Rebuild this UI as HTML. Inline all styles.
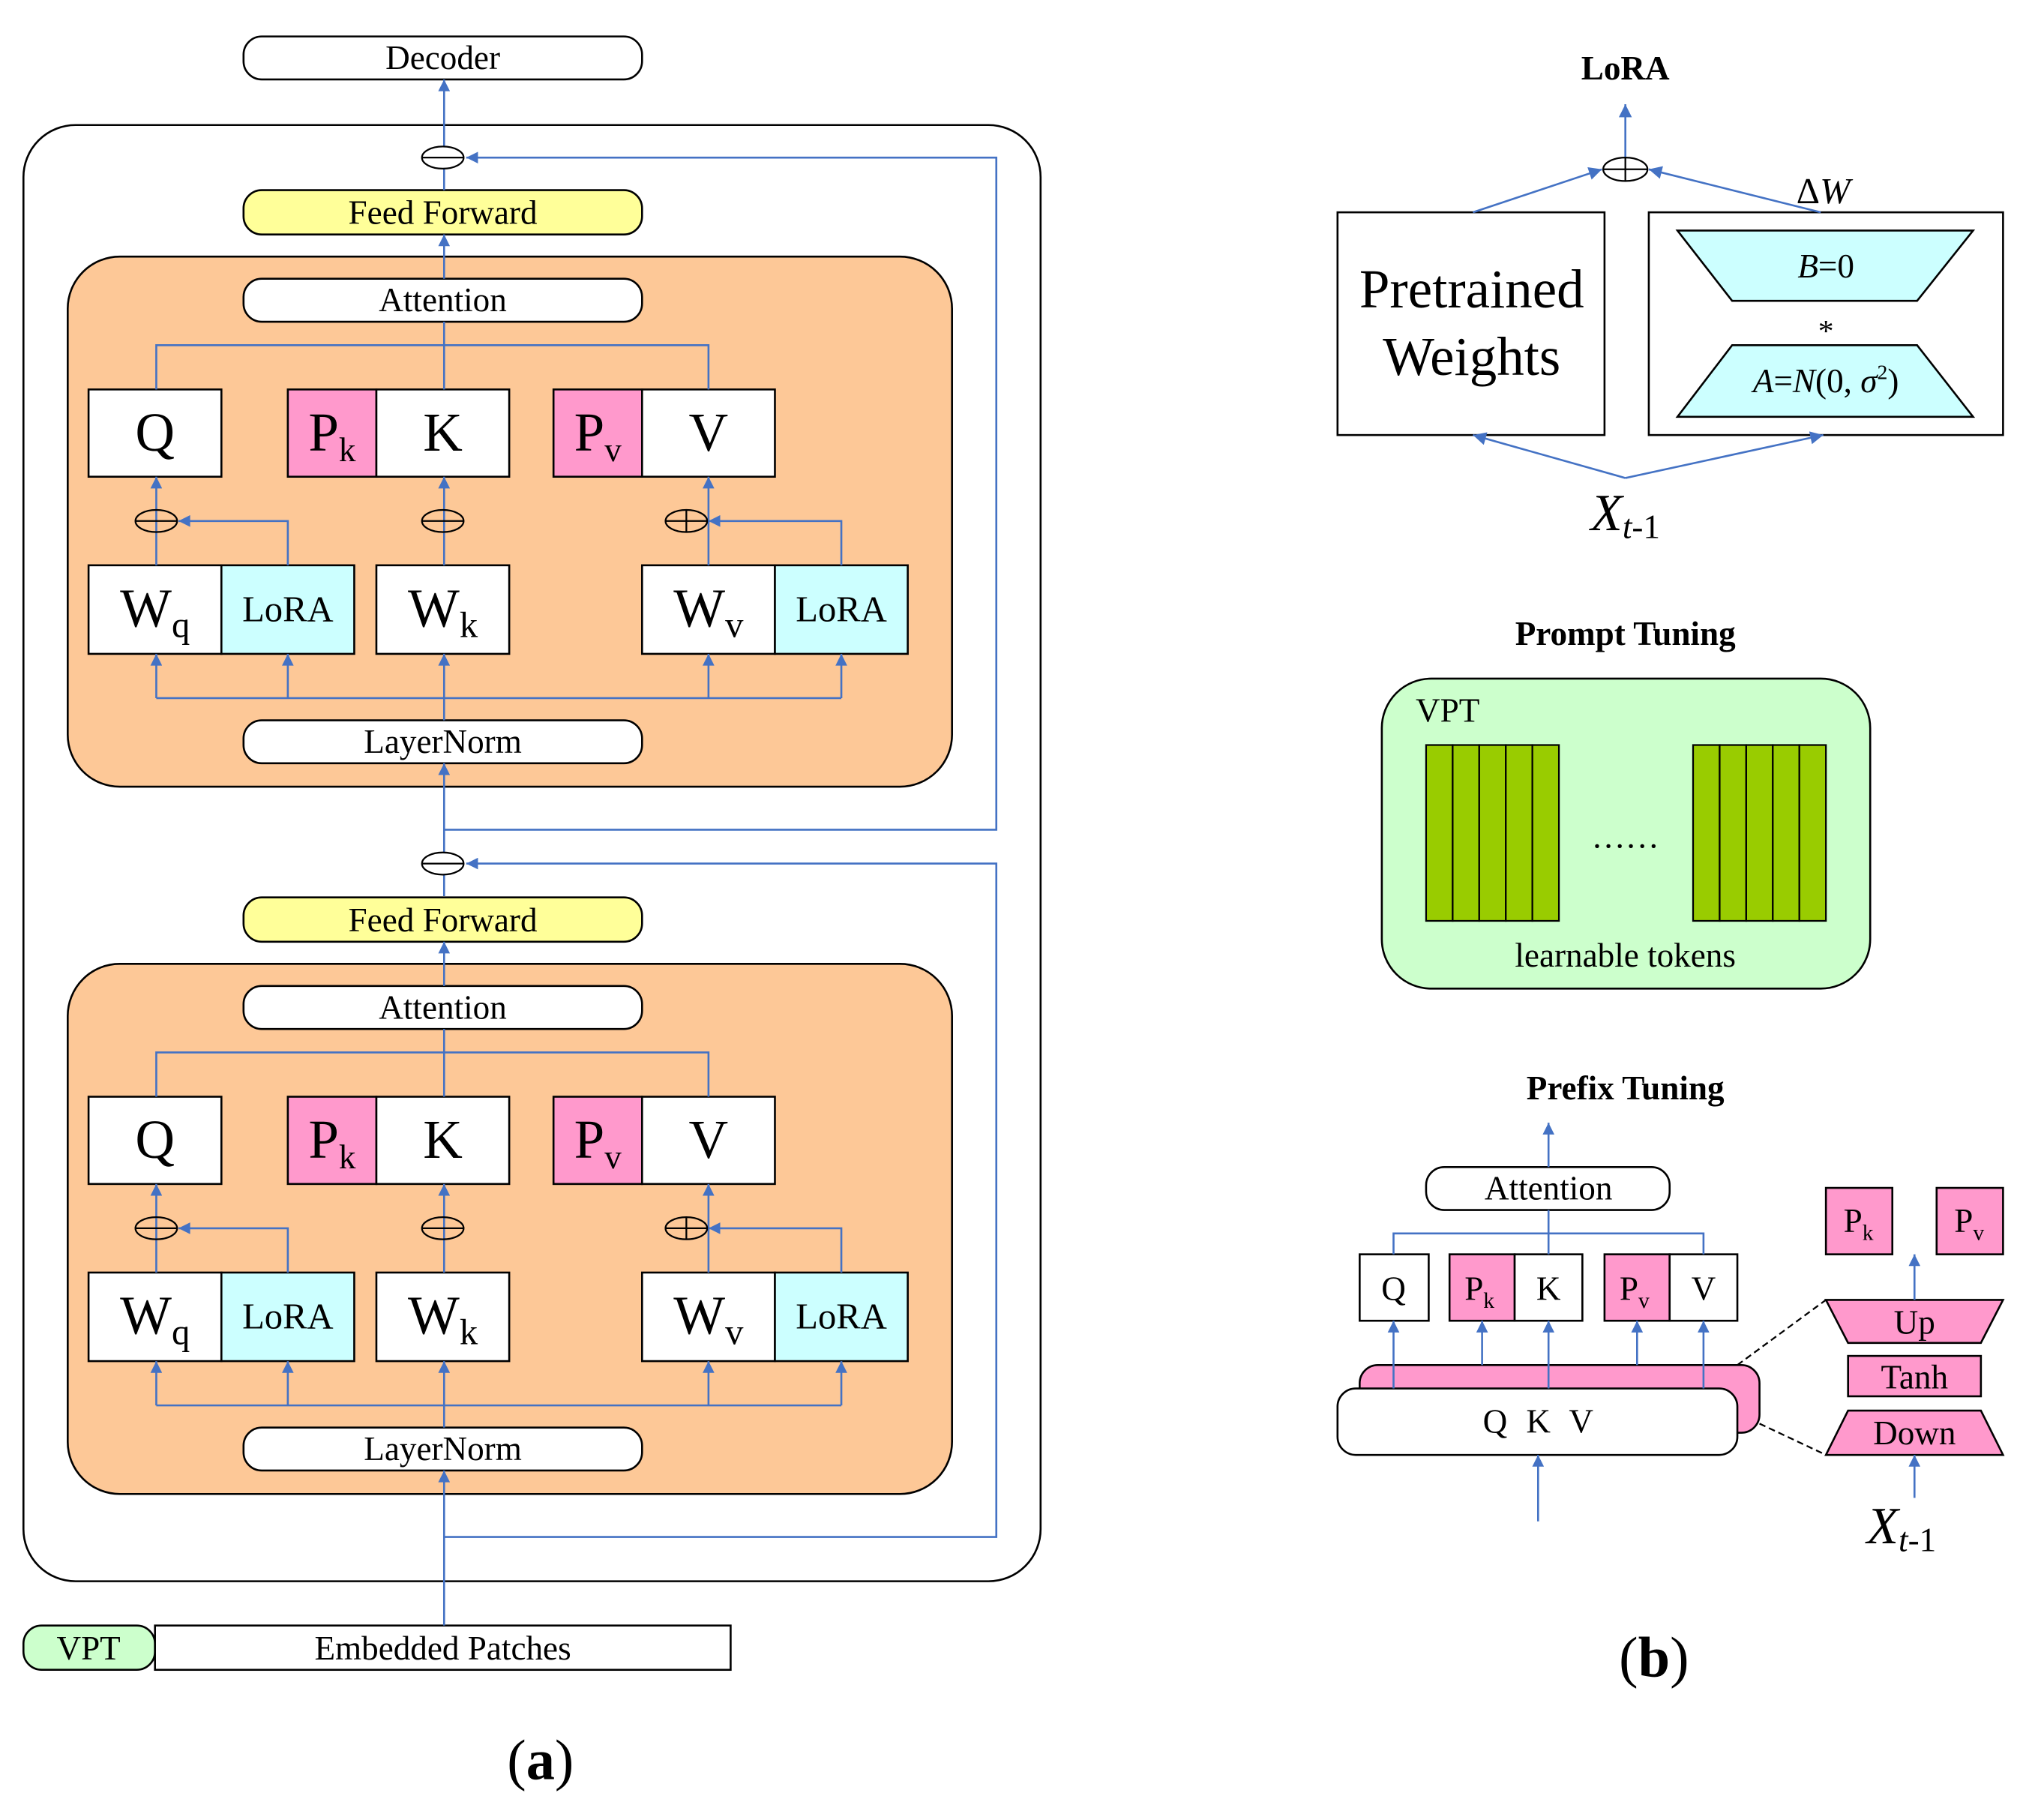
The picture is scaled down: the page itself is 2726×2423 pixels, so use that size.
<!DOCTYPE html>
<html><head><meta charset="utf-8"><style>html,body{margin:0;padding:0;background:#fff}svg{display:block}</style></head>
<body>
<svg width="2726" height="2423" viewBox="0 0 1569 1395" preserveAspectRatio="xMinYMin meet" xmlns="http://www.w3.org/2000/svg" font-family="'Liberation Serif', serif">
<defs>
<marker id="ar" viewBox="0 0 10 10" refX="10" refY="5" markerWidth="13" markerHeight="9" orient="auto" markerUnits="userSpaceOnUse"><path d="M0,0L10,5L0,10z" fill="#4472c4"/></marker>
<marker id="ab" viewBox="0 0 10 10" refX="10" refY="5" markerWidth="15" markerHeight="10" orient="auto" markerUnits="userSpaceOnUse"><path d="M0,0L10,5L0,10z" fill="#4472c4"/></marker>
</defs>
<g stroke="#000" stroke-width="1.5">
<rect x="187" y="28" width="306" height="33" rx="14" fill="#fff"/>
<rect x="18" y="96" width="781" height="1118" rx="40" fill="none"/>
<rect x="18" y="1248" width="101" height="34" rx="14" fill="#ccffcc"/>
<rect x="119" y="1248" width="442" height="34" fill="#fff"/>
</g>
<g id="blk1">
<g stroke="#000" stroke-width="1.5">
<rect x="187" y="146" width="306" height="34" rx="14" fill="#ffff99"/>
<rect x="52" y="197" width="679" height="407" rx="40" fill="#fdc897"/>
<rect x="187" y="214" width="306" height="33" rx="14" fill="#fff"/>
<rect x="187" y="553" width="306" height="33" rx="14" fill="#fff"/>
<rect x="68" y="299" width="102" height="67" fill="#fff"/>
<rect x="221" y="299" width="68" height="67" fill="#ff99cc"/>
<rect x="289" y="299" width="102" height="67" fill="#fff"/>
<rect x="425" y="299" width="68" height="67" fill="#ff99cc"/>
<rect x="493" y="299" width="102" height="67" fill="#fff"/>
<rect x="68" y="434" width="102" height="68" fill="#fff"/>
<rect x="170" y="434" width="102" height="68" fill="#ccffff"/>
<rect x="289" y="434" width="102" height="68" fill="#fff"/>
<rect x="493" y="434" width="102" height="68" fill="#fff"/>
<rect x="595" y="434" width="102" height="68" fill="#ccffff"/>
</g>
<g stroke="#4472c4" stroke-width="1.5" fill="none">
<path d="M341 214V180" marker-end="url(#ar)"/>
<path d="M120 299V265H544V299M341 247V299"/>
<path d="M120 434V366" marker-end="url(#ar)"/>
<path d="M341 434V366" marker-end="url(#ar)"/>
<path d="M544 434V366" marker-end="url(#ar)"/>
<path d="M221 434V400H137" marker-end="url(#ar)"/>
<path d="M646 434V400H544" marker-end="url(#ar)"/>
<path d="M120 536H646"/>
<path d="M341 553V502" marker-end="url(#ar)"/>
<path d="M120 536V502" marker-end="url(#ar)"/>
<path d="M221 536V502" marker-end="url(#ar)"/>
<path d="M544 536V502" marker-end="url(#ar)"/>
<path d="M646 536V502" marker-end="url(#ar)"/>
</g>
<g stroke="#000" stroke-width="1.3" fill="none">
<ellipse cx="120" cy="400" rx="16" ry="8.5"/><path d="M104 400H136"/>
<ellipse cx="340" cy="400" rx="16" ry="8.5"/><path d="M324 400H356"/>
<ellipse cx="527" cy="400" rx="16" ry="8.5"/><path d="M511 400H543M527 391.5V408.5"/>
</g>
<g font-size="26" text-anchor="middle">
<text x="340" y="172">Feed Forward</text>
<text x="340" y="239">Attention</text>
<text x="340" y="578">LayerNorm</text>
<text x="119" y="346" font-size="42">Q</text>
<text x="340" y="346" font-size="42">K</text>
<text x="544" y="346" font-size="42">V</text>
<text x="255" y="346" font-size="42">P<tspan font-size="26" dy="8">k</tspan></text>
<text x="459" y="346" font-size="42">P<tspan font-size="26" dy="8">v</tspan></text>
<text x="119" y="481" font-size="42">W<tspan font-size="28" dy="8">q</tspan></text>
<text x="340" y="481" font-size="42">W<tspan font-size="28" dy="8">k</tspan></text>
<text x="544" y="481" font-size="42">W<tspan font-size="28" dy="8">v</tspan></text>
<text x="221" y="477" font-size="28">LoRA</text>
<text x="646" y="477" font-size="28">LoRA</text>
</g>
</g>
<g transform="translate(0,543)">
<g stroke="#000" stroke-width="1.5">
<rect x="187" y="146" width="306" height="34" rx="14" fill="#ffff99"/>
<rect x="52" y="197" width="679" height="407" rx="40" fill="#fdc897"/>
<rect x="187" y="214" width="306" height="33" rx="14" fill="#fff"/>
<rect x="187" y="553" width="306" height="33" rx="14" fill="#fff"/>
<rect x="68" y="299" width="102" height="67" fill="#fff"/>
<rect x="221" y="299" width="68" height="67" fill="#ff99cc"/>
<rect x="289" y="299" width="102" height="67" fill="#fff"/>
<rect x="425" y="299" width="68" height="67" fill="#ff99cc"/>
<rect x="493" y="299" width="102" height="67" fill="#fff"/>
<rect x="68" y="434" width="102" height="68" fill="#fff"/>
<rect x="170" y="434" width="102" height="68" fill="#ccffff"/>
<rect x="289" y="434" width="102" height="68" fill="#fff"/>
<rect x="493" y="434" width="102" height="68" fill="#fff"/>
<rect x="595" y="434" width="102" height="68" fill="#ccffff"/>
</g>
<g stroke="#4472c4" stroke-width="1.5" fill="none">
<path d="M341 214V180" marker-end="url(#ar)"/>
<path d="M120 299V265H544V299M341 247V299"/>
<path d="M120 434V366" marker-end="url(#ar)"/>
<path d="M341 434V366" marker-end="url(#ar)"/>
<path d="M544 434V366" marker-end="url(#ar)"/>
<path d="M221 434V400H137" marker-end="url(#ar)"/>
<path d="M646 434V400H544" marker-end="url(#ar)"/>
<path d="M120 536H646"/>
<path d="M341 553V502" marker-end="url(#ar)"/>
<path d="M120 536V502" marker-end="url(#ar)"/>
<path d="M221 536V502" marker-end="url(#ar)"/>
<path d="M544 536V502" marker-end="url(#ar)"/>
<path d="M646 536V502" marker-end="url(#ar)"/>
</g>
<g stroke="#000" stroke-width="1.3" fill="none">
<ellipse cx="120" cy="400" rx="16" ry="8.5"/><path d="M104 400H136"/>
<ellipse cx="340" cy="400" rx="16" ry="8.5"/><path d="M324 400H356"/>
<ellipse cx="527" cy="400" rx="16" ry="8.5"/><path d="M511 400H543M527 391.5V408.5"/>
</g>
<g font-size="26" text-anchor="middle">
<text x="340" y="172">Feed Forward</text>
<text x="340" y="239">Attention</text>
<text x="340" y="578">LayerNorm</text>
<text x="119" y="346" font-size="42">Q</text>
<text x="340" y="346" font-size="42">K</text>
<text x="544" y="346" font-size="42">V</text>
<text x="255" y="346" font-size="42">P<tspan font-size="26" dy="8">k</tspan></text>
<text x="459" y="346" font-size="42">P<tspan font-size="26" dy="8">v</tspan></text>
<text x="119" y="481" font-size="42">W<tspan font-size="28" dy="8">q</tspan></text>
<text x="340" y="481" font-size="42">W<tspan font-size="28" dy="8">k</tspan></text>
<text x="544" y="481" font-size="42">W<tspan font-size="28" dy="8">v</tspan></text>
<text x="221" y="477" font-size="28">LoRA</text>
<text x="646" y="477" font-size="28">LoRA</text>
</g>
</g>
<g stroke="#4472c4" stroke-width="1.5" fill="none">
<path d="M341 146V61" marker-end="url(#ar)"/>
<path d="M341 637H765V121H358" marker-end="url(#ar)"/>
<path d="M341 688V586" marker-end="url(#ar)"/>
<path d="M341 1180H765V663H358" marker-end="url(#ar)"/>
<path d="M341 1248V1129" marker-end="url(#ar)"/>
</g>
<g stroke="#000" stroke-width="1.3" fill="#fff">
<ellipse cx="340" cy="121" rx="16" ry="8.5"/><path d="M324 121H356"/>
<ellipse cx="340" cy="663" rx="16" ry="8.5"/><path d="M324 663H356"/>
</g>
<g font-size="26" text-anchor="middle">
<text x="340" y="53">Decoder</text>
<text x="68" y="1274">VPT</text>
<text x="340" y="1274">Embedded Patches</text>
<text x="415" y="1366" font-size="44">(<tspan font-weight="bold">a</tspan>)</text>
<text x="1270" y="1287" font-size="44">(<tspan font-weight="bold">b</tspan>)</text>
</g>

<text x="1248" y="61" font-size="26" font-weight="bold" text-anchor="middle">LoRA</text>
<g stroke="#000" stroke-width="1.5" fill="#fff">
<rect x="1027" y="163" width="205" height="171"/>
<rect x="1266" y="163" width="272" height="171"/>
<path d="M1288 177H1515L1472 231H1330Z" fill="#ccffff"/>
<path d="M1330 265H1472L1515 320H1288Z" fill="#ccffff"/>
</g>
<g stroke="#4472c4" stroke-width="1.5" fill="none">
<path d="M1248 121V80" marker-end="url(#ab)"/>
<path d="M1131 163L1230 130" marker-end="url(#ab)"/>
<path d="M1398 163L1266 130" marker-end="url(#ab)"/>
<path d="M1248 367L1131 334" marker-end="url(#ab)"/>
<path d="M1248 367L1400 334" marker-end="url(#ab)"/>
</g>
<g stroke="#000" stroke-width="1.3" fill="#fff">
<ellipse cx="1248" cy="130" rx="17" ry="9"/><path d="M1231 130H1265M1248 121V139" fill="none"/>
</g>
<g text-anchor="middle">
<text x="1130" y="236" font-size="42">Pretrained</text>
<text x="1130" y="288" font-size="42">Weights</text>
<text x="1400" y="156" font-size="28"><tspan>Δ</tspan><tspan font-style="italic">W</tspan></text>
<text x="1402" y="213" font-size="26"><tspan font-style="italic">B</tspan>=0</text>
<text x="1402" y="262" font-size="24">*</text>
<text x="1402" y="301" font-size="26"><tspan font-style="italic">A</tspan>=<tspan font-style="italic">N</tspan>(0, <tspan font-style="italic">σ</tspan><tspan font-size="16" dy="-10">2</tspan><tspan dy="10">)</tspan></text>
<text x="1248" y="407" font-size="40"><tspan font-style="italic">X</tspan><tspan font-size="26" dy="6"><tspan font-style="italic">t</tspan>-1</tspan></text>
</g>

<text x="1248" y="495" font-size="26" font-weight="bold" text-anchor="middle">Prompt Tuning</text>
<rect x="1061" y="521" width="375" height="238" rx="38" fill="#ccffcc" stroke="#000" stroke-width="1.5"/>
<g stroke="#000" stroke-width="1.3" fill="#99cc00">
<rect x="1095" y="572" width="20.4" height="135"/><rect x="1115.4" y="572" width="20.4" height="135"/><rect x="1135.8" y="572" width="20.4" height="135"/><rect x="1156.2" y="572" width="20.4" height="135"/><rect x="1176.6" y="572" width="20.4" height="135"/>
<rect x="1300" y="572" width="20.4" height="135"/><rect x="1320.4" y="572" width="20.4" height="135"/><rect x="1340.8" y="572" width="20.4" height="135"/><rect x="1361.2" y="572" width="20.4" height="135"/><rect x="1381.6" y="572" width="20.4" height="135"/>
</g>
<g font-size="26">
<text x="1087" y="554">VPT</text>
<text x="1248" y="651" text-anchor="middle">……</text>
<text x="1248" y="742" text-anchor="middle">learnable tokens</text>
</g>

<text x="1248" y="844" font-size="26" font-weight="bold" text-anchor="middle">Prefix Tuning</text>
<g stroke="#000" stroke-width="1.5">
<rect x="1095" y="896" width="187" height="33" rx="14" fill="#fff"/>
<rect x="1044" y="963" width="53" height="51" fill="#fff"/>
<rect x="1113" y="963" width="50" height="51" fill="#ff99cc"/>
<rect x="1163" y="963" width="52" height="51" fill="#fff"/>
<rect x="1232" y="963" width="50" height="51" fill="#ff99cc"/>
<rect x="1282" y="963" width="52" height="51" fill="#fff"/>
<rect x="1044" y="1048" width="307" height="52" rx="14" fill="#ff99cc"/>
<rect x="1027" y="1066" width="307" height="51" rx="14" fill="#fff"/>
<rect x="1402" y="912" width="51" height="51" fill="#ff99cc"/>
<rect x="1487" y="912" width="51" height="51" fill="#ff99cc"/>
<path d="M1402 998H1538L1521 1031H1419Z" fill="#ff99cc"/>
<rect x="1419" y="1041" width="102" height="31" fill="#ff99cc"/>
<path d="M1419 1083H1521L1538 1117H1402Z" fill="#ff99cc"/>
</g>
<g stroke="#000" stroke-width="1.3" stroke-dasharray="5,3" fill="none">
<path d="M1334 1048L1402 998"/><path d="M1351 1093L1402 1117"/>
</g>
<g stroke="#4472c4" stroke-width="1.5" fill="none">
<path d="M1189 896V862" marker-end="url(#ar)"/>
<path d="M1070 963V947H1308V963M1189 929V963"/>
<path d="M1070 1066V1014" marker-end="url(#ar)"/>
<path d="M1138 1048V1014" marker-end="url(#ar)"/>
<path d="M1189 1066V1014" marker-end="url(#ar)"/>
<path d="M1257 1048V1014" marker-end="url(#ar)"/>
<path d="M1308 1066V1014" marker-end="url(#ar)"/>
<path d="M1181 1168V1117" marker-end="url(#ar)"/>
<path d="M1470 998V963" marker-end="url(#ar)"/>
<path d="M1470 1150V1117" marker-end="url(#ar)"/>
</g>
<g font-size="26" text-anchor="middle">
<text x="1189" y="921">Attention</text>
<text x="1070" y="998">Q</text>
<text x="1189" y="998">K</text>
<text x="1308" y="998">V</text>
<text x="1136" y="998">P<tspan font-size="17" dy="6">k</tspan></text>
<text x="1255" y="998">P<tspan font-size="17" dy="6">v</tspan></text>
<text x="1181" y="1100" word-spacing="8">Q K V</text>
<text x="1427" y="946">P<tspan font-size="17" dy="6">k</tspan></text>
<text x="1512" y="946">P<tspan font-size="17" dy="6">v</tspan></text>
<text x="1470" y="1024">Up</text>
<text x="1470" y="1066">Tanh</text>
<text x="1470" y="1109">Down</text>
<text x="1460" y="1185" font-size="40"><tspan font-style="italic">X</tspan><tspan font-size="26" dy="6"><tspan font-style="italic">t</tspan>-1</tspan></text>
</g>
</svg>
</body></html>
